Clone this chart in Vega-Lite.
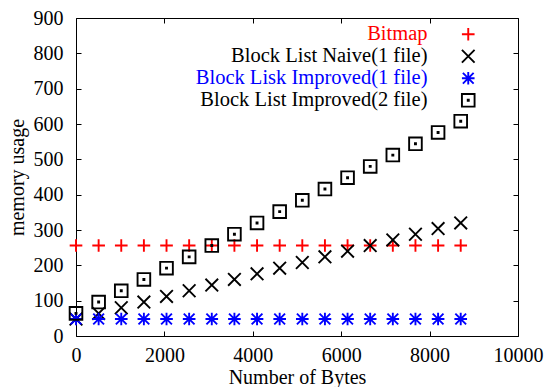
{
  "$schema": "https://vega.github.io/schema/vega-lite/v6.json",
  "width": 442,
  "height": 318,
  "autosize": "none",
  "padding": {"left": 76, "top": 18, "right": 30, "bottom": 51},
  "background": "#ffffff",
  "config": {
    "view": {"stroke": "#000000", "strokeWidth": 1},
    "font": "Liberation Serif",
    "axis": {
      "labelFont": "Liberation Serif",
      "labelFontSize": 20,
      "labelColor": "#000000",
      "titleFont": "Liberation Serif",
      "titleFontSize": 20,
      "titleFontWeight": "normal",
      "titleColor": "#000000",
      "grid": false,
      "domain": false,
      "tickColor": "#000000",
      "tickSize": -5,
      "tickWidth": 1
    }
  },
  "data": {
    "values": [
      {"series": "Bitmap", "bytes": 0, "mem": 256},
      {"series": "Bitmap", "bytes": 512, "mem": 256},
      {"series": "Bitmap", "bytes": 1024, "mem": 256},
      {"series": "Bitmap", "bytes": 1536, "mem": 256},
      {"series": "Bitmap", "bytes": 2048, "mem": 256},
      {"series": "Bitmap", "bytes": 2560, "mem": 256},
      {"series": "Bitmap", "bytes": 3072, "mem": 256},
      {"series": "Bitmap", "bytes": 3584, "mem": 256},
      {"series": "Bitmap", "bytes": 4096, "mem": 256},
      {"series": "Bitmap", "bytes": 4608, "mem": 256},
      {"series": "Bitmap", "bytes": 5120, "mem": 256},
      {"series": "Bitmap", "bytes": 5632, "mem": 256},
      {"series": "Bitmap", "bytes": 6144, "mem": 256},
      {"series": "Bitmap", "bytes": 6656, "mem": 256},
      {"series": "Bitmap", "bytes": 7168, "mem": 256},
      {"series": "Bitmap", "bytes": 7680, "mem": 256},
      {"series": "Bitmap", "bytes": 8192, "mem": 256},
      {"series": "Bitmap", "bytes": 8704, "mem": 256},
      {"series": "Block List Naive(1 file)", "bytes": 0, "mem": 48},
      {"series": "Block List Naive(1 file)", "bytes": 512, "mem": 64},
      {"series": "Block List Naive(1 file)", "bytes": 1024, "mem": 80},
      {"series": "Block List Naive(1 file)", "bytes": 1536, "mem": 96},
      {"series": "Block List Naive(1 file)", "bytes": 2048, "mem": 112},
      {"series": "Block List Naive(1 file)", "bytes": 2560, "mem": 128},
      {"series": "Block List Naive(1 file)", "bytes": 3072, "mem": 144},
      {"series": "Block List Naive(1 file)", "bytes": 3584, "mem": 160},
      {"series": "Block List Naive(1 file)", "bytes": 4096, "mem": 176},
      {"series": "Block List Naive(1 file)", "bytes": 4608, "mem": 192},
      {"series": "Block List Naive(1 file)", "bytes": 5120, "mem": 208},
      {"series": "Block List Naive(1 file)", "bytes": 5632, "mem": 224},
      {"series": "Block List Naive(1 file)", "bytes": 6144, "mem": 240},
      {"series": "Block List Naive(1 file)", "bytes": 6656, "mem": 256},
      {"series": "Block List Naive(1 file)", "bytes": 7168, "mem": 272},
      {"series": "Block List Naive(1 file)", "bytes": 7680, "mem": 288},
      {"series": "Block List Naive(1 file)", "bytes": 8192, "mem": 304},
      {"series": "Block List Naive(1 file)", "bytes": 8704, "mem": 320},
      {"series": "Block Lisk Improved(1 file)", "bytes": 0, "mem": 48},
      {"series": "Block Lisk Improved(1 file)", "bytes": 512, "mem": 48},
      {"series": "Block Lisk Improved(1 file)", "bytes": 1024, "mem": 48},
      {"series": "Block Lisk Improved(1 file)", "bytes": 1536, "mem": 48},
      {"series": "Block Lisk Improved(1 file)", "bytes": 2048, "mem": 48},
      {"series": "Block Lisk Improved(1 file)", "bytes": 2560, "mem": 48},
      {"series": "Block Lisk Improved(1 file)", "bytes": 3072, "mem": 48},
      {"series": "Block Lisk Improved(1 file)", "bytes": 3584, "mem": 48},
      {"series": "Block Lisk Improved(1 file)", "bytes": 4096, "mem": 48},
      {"series": "Block Lisk Improved(1 file)", "bytes": 4608, "mem": 48},
      {"series": "Block Lisk Improved(1 file)", "bytes": 5120, "mem": 48},
      {"series": "Block Lisk Improved(1 file)", "bytes": 5632, "mem": 48},
      {"series": "Block Lisk Improved(1 file)", "bytes": 6144, "mem": 48},
      {"series": "Block Lisk Improved(1 file)", "bytes": 6656, "mem": 48},
      {"series": "Block Lisk Improved(1 file)", "bytes": 7168, "mem": 48},
      {"series": "Block Lisk Improved(1 file)", "bytes": 7680, "mem": 48},
      {"series": "Block Lisk Improved(1 file)", "bytes": 8192, "mem": 48},
      {"series": "Block Lisk Improved(1 file)", "bytes": 8704, "mem": 48},
      {"series": "Block List Improved(2 file)", "bytes": 0, "mem": 64},
      {"series": "Block List Improved(2 file)", "bytes": 512, "mem": 96},
      {"series": "Block List Improved(2 file)", "bytes": 1024, "mem": 128},
      {"series": "Block List Improved(2 file)", "bytes": 1536, "mem": 160},
      {"series": "Block List Improved(2 file)", "bytes": 2048, "mem": 192},
      {"series": "Block List Improved(2 file)", "bytes": 2560, "mem": 224},
      {"series": "Block List Improved(2 file)", "bytes": 3072, "mem": 256},
      {"series": "Block List Improved(2 file)", "bytes": 3584, "mem": 288},
      {"series": "Block List Improved(2 file)", "bytes": 4096, "mem": 320},
      {"series": "Block List Improved(2 file)", "bytes": 4608, "mem": 352},
      {"series": "Block List Improved(2 file)", "bytes": 5120, "mem": 384},
      {"series": "Block List Improved(2 file)", "bytes": 5632, "mem": 416},
      {"series": "Block List Improved(2 file)", "bytes": 6144, "mem": 448},
      {"series": "Block List Improved(2 file)", "bytes": 6656, "mem": 480},
      {"series": "Block List Improved(2 file)", "bytes": 7168, "mem": 512},
      {"series": "Block List Improved(2 file)", "bytes": 7680, "mem": 544},
      {"series": "Block List Improved(2 file)", "bytes": 8192, "mem": 576},
      {"series": "Block List Improved(2 file)", "bytes": 8704, "mem": 608}
    ]
  },
  "layer": [
    {
      "mark": {"type": "point", "filled": false, "size": 160, "strokeWidth": 1.9, "opacity": 1},
      "encoding": {
        "x": {
          "field": "bytes", "type": "quantitative",
          "scale": {"domain": [0, 10000], "nice": false, "zero": false},
          "axis": {"orient": "bottom", "values": [0, 2000, 4000, 6000, 8000, 10000], "format": "d", "labelPadding": 14, "title": "Number of Bytes", "titlePadding": 2, "labelFlush": false}
        },
        "y": {
          "field": "mem", "type": "quantitative",
          "scale": {"domain": [0, 900], "nice": false, "zero": false},
          "axis": {"orient": "left", "values": [0, 100, 200, 300, 400, 500, 600, 700, 800, 900], "labelPadding": 18, "title": "memory usage", "titlePadding": 6}
        },
        "color": {
          "field": "series", "type": "nominal",
          "scale": {
            "domain": ["Bitmap", "Block List Naive(1 file)", "Block Lisk Improved(1 file)", "Block List Improved(2 file)"],
            "range": ["#ff0000", "#000000", "#0000ff", "#000000"]
          },
          "legend": {
            "title": null,
            "orient": "none",
            "legendX": 382,
            "legendY": 6,
            "padding": 0,
            "labelAlign": "right",
            "labelOffset": -51,
            "labelFont": "Liberation Serif",
            "labelFontSize": 20.5,
            "labelLimit": 0,
            "labelColor": {"expr": "datum.label === 'Bitmap' ? '#ff0000' : (datum.label === 'Block Lisk Improved(1 file)' ? '#0000ff' : '#000000')"},
            "symbolSize": 160,
            "symbolStrokeWidth": 1.9,
            "rowPadding": 1
          }
        },
        "shape": {
          "field": "series", "type": "nominal",
          "scale": {
            "domain": ["Bitmap", "Block List Naive(1 file)", "Block Lisk Improved(1 file)", "Block List Improved(2 file)"],
            "range": [
              "M-1,0H1M0,-1V1",
              "M-1,-1L1,1M-1,1L1,-1",
              "M-1,0H1M0,-1V1M-0.85,-0.85L0.85,0.85M-0.85,0.85L0.85,-0.85",
              "M-1,-1H1V1H-1ZM-0.08,-0.08H0.08V0.08H-0.08Z"
            ]
          },
          "legend": {
            "title": null,
            "orient": "none",
            "legendX": 382,
            "legendY": 6,
            "padding": 0,
            "labelAlign": "right",
            "labelOffset": -51,
            "labelFont": "Liberation Serif",
            "labelFontSize": 20.5,
            "labelLimit": 0,
            "labelColor": {"expr": "datum.label === 'Bitmap' ? '#ff0000' : (datum.label === 'Block Lisk Improved(1 file)' ? '#0000ff' : '#000000')"},
            "symbolSize": 160,
            "symbolStrokeWidth": 1.9,
            "rowPadding": 1
          }
        }
      }
    },
    {
      "mark": {"type": "point", "opacity": 0},
      "encoding": {
        "x": {
          "field": "bytes", "type": "quantitative",
          "axis": {"orient": "top", "values": [0, 2000, 4000, 6000, 8000, 10000], "labels": false, "title": null}
        },
        "y": {
          "field": "mem", "type": "quantitative",
          "axis": {"orient": "right", "values": [0, 100, 200, 300, 400, 500, 600, 700, 800, 900], "labels": false, "title": null}
        }
      }
    }
  ]
}
